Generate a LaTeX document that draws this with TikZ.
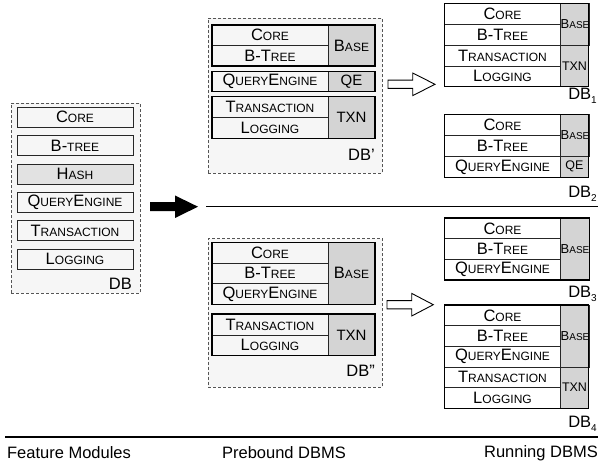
\documentclass[tikz,border=0pt]{standalone}
\usepackage{fontspec}
\setmainfont{Liberation Sans}
\definecolor{gfill}{HTML}{D4D4D4}
\definecolor{hfill}{HTML}{E2E2E2}
\definecolor{dfill}{HTML}{F6F6F6}
\definecolor{dline}{HTML}{555555}
\newcommand\Lg[1]{{\fontsize{16.5}{17}\selectfont #1}}
\newcommand\Sm[1]{{\fontsize{12}{13}\selectfont #1}}
\newcommand\rLg[1]{{\fontsize{13}{13}\selectfont #1}}
\newcommand\rSm[1]{{\fontsize{10}{10}\selectfont #1}}
\newcommand\DBsub[1]{DB\raisebox{-4pt}{\fontsize{10}{10}\selectfont #1}}
\begin{document}
\begin{tikzpicture}[x=1pt,y=-1pt,
  cell/.style={draw=black!85,line width=0.6pt,inner sep=0pt,outer sep=0pt,anchor=north west,align=center},
  lcell/.style={cell,minimum width=116,minimum height=20},
  mcell/.style={cell,minimum width=116},
  mgray/.style={cell,fill=gfill,minimum width=47},
  rcell/.style={cell,minimum width=116.4},
  rgray/.style={cell,fill=gfill,minimum width=27.6},
  grp/.style={draw=black,line width=1.5pt},
  dbox/.style={draw=dline,dash pattern=on 3pt off 2pt,line width=0.7pt,fill=dfill,anchor=north west,inner sep=0pt},
  dblab/.style={anchor=base east,inner sep=0pt,font=\fontsize{16.5}{17}\selectfont},
  bot/.style={inner sep=0pt,font=\fontsize{16.5}{17}\selectfont},
  sep/.style={draw=black,line width=1.1pt},
  hollow/.style={draw=black,line width=0.9pt,fill=white,line join=miter}]
\useasboundingbox (0,0) rectangle (611,468);

% ---------- Feature modules ----------
\node[dbox,minimum width=129,minimum height=190] (dbA) at (11,103) {};
\node[lcell] (fcore) at (17,107) {\Lg{C}\Sm{ORE}};
\node[lcell] (fbt) at (17,135.5) {\Lg{B-}\Sm{TREE}};
\node[lcell,fill=hfill] (fhash) at (17,164) {\Lg{H}\Sm{ASH}};
\node[lcell] (fqe) at (17,192) {\Lg{Q}\Sm{UERY}\Lg{E}\Sm{NGINE}};
\node[lcell] (ftx) at (17,220.5) {\Lg{T}\Sm{RANSACTION}};
\node[lcell] (flog) at (17,249) {\Lg{L}\Sm{OGGING}};
\node[dblab] (lA) at (132,289) {DB};

% big arrow
\fill (150,202.2) -- (175,202.2) -- (175,195.5) -- (198,206.7) -- (175,218) -- (175,211.2) -- (150,211.2) -- cycle;

% ---------- Prebound DB' ----------
\node[dbox,minimum width=174,minimum height=155] (dbP1) at (207.7,18) {};
\node[mcell,minimum height=20.5] (p1core) at (212,25) {\Lg{C}\Sm{ORE}};
\node[mcell,minimum height=20.5] (p1bt) at (212,45.5) {\Lg{B-T}\Sm{REE}};
\node[mgray,minimum height=41] (p1base) at (328,25) {\Lg{B}\Sm{ASE}};
\draw[grp] (p1core.north west) rectangle (p1base.south east);
\node[mcell,minimum height=20] (p1qe) at (212,71.7) {\Lg{Q}\Sm{UERY}\Lg{E}\Sm{NGINE}};
\node[mgray,minimum height=20] (p1qeg) at (328,71.7) {\fontsize{15}{15}\selectfont QE};
\draw[grp] (p1qe.north west) rectangle (p1qeg.south east);
\node[mcell,minimum height=20.8] (p1tx) at (212,96.7) {\Lg{T}\Sm{RANSACTION}};
\node[mcell,minimum height=20.8] (p1log) at (212,117.5) {\Lg{L}\Sm{OGGING}};
\node[mgray,minimum height=41.6] (p1txn) at (328,96.7) {\fontsize{15}{15}\selectfont TXN};
\draw[grp] (p1tx.north west) rectangle (p1txn.south east);
\node[dblab] (lP1) at (375,161) {DB\symbol{39}};

% ---------- Prebound DB'' ----------
\node[dbox,minimum width=174,minimum height=148.7] (dbP2) at (207.7,238.3) {};
\node[mcell,minimum height=20.67] (p2core) at (212,242.3) {\Lg{C}\Sm{ORE}};
\node[mcell,minimum height=20.67] (p2bt) at (212,262.97) {\Lg{B-T}\Sm{REE}};
\node[mcell,minimum height=20.67] (p2qe) at (212,283.64) {\Lg{Q}\Sm{UERY}\Lg{E}\Sm{NGINE}};
\node[mgray,minimum height=62] (p2base) at (328,242.3) {\Lg{B}\Sm{ASE}};
\draw[grp] (p2core.north west) rectangle (p2base.south east);
\node[mcell,minimum height=20.85] (p2tx) at (212,314) {\Lg{T}\Sm{RANSACTION}};
\node[mcell,minimum height=20.85] (p2log) at (212,334.85) {\Lg{L}\Sm{OGGING}};
\node[mgray,minimum height=41.7] (p2txn) at (328,314) {\fontsize{15}{15}\selectfont TXN};
\draw[grp] (p2tx.north west) rectangle (p2txn.south east);
\node[dblab] (lP2) at (375,376) {DB\symbol{34}};

% hollow arrows
\filldraw[hollow] (388,80.2) -- (412.7,80.2) -- (412.7,73) -- (435,84.3) -- (412.7,95.6) -- (412.7,88.4) -- (388,88.4) -- cycle;
\filldraw[hollow] (387,300.6) -- (411.7,300.6) -- (411.7,293.4) -- (433.3,304.7) -- (411.7,316) -- (411.7,308.8) -- (387,308.8) -- cycle;

% ---------- Running DB1 ----------
\node[rcell,minimum height=20.85] (r1core) at (444.3,3.3) {\Lg{C}\Sm{ORE}};
\node[rcell,minimum height=20.85] (r1bt) at (444.3,24.15) {\Lg{B-T}\Sm{REE}};
\node[rcell,minimum height=20.85] (r1tx) at (444.3,45) {\Lg{T}\Sm{RANSACTION}};
\node[rcell,minimum height=20.85] (r1log) at (444.3,65.85) {\Lg{L}\Sm{OGGING}};
\node[rgray,minimum height=41.7] (r1base) at (560.7,3.3) {\rLg{B}\rSm{ASE}};
\node[rgray,minimum height=41.7] (r1txn) at (560.7,45) {\fontsize{12.5}{12.5}\selectfont TXN};
\draw[grp] (r1core.north west) rectangle (r1txn.south east);
\node[dblab] (lR1) at (597,100) {\DBsub{1}};

% ---------- Running DB2 ----------
\node[rcell,minimum height=21] (r2core) at (444.3,114.3) {\Lg{C}\Sm{ORE}};
\node[rcell,minimum height=21] (r2bt) at (444.3,135.3) {\Lg{B-T}\Sm{REE}};
\node[rcell,minimum height=21] (r2qe) at (444.3,156.3) {\Lg{Q}\Sm{UERY}\Lg{E}\Sm{NGINE}};
\node[rgray,minimum height=42] (r2base) at (560.7,114.3) {\rLg{B}\rSm{ASE}};
\node[rgray,minimum height=21] (r2qeg) at (560.7,156.3) {\fontsize{12.5}{12.5}\selectfont QE};
\draw[grp] (r2core.north west) rectangle (r2qeg.south east);
\node[dblab] (lR2) at (597,197) {\DBsub{2}};

% separator
\coordinate (m1) at (206,206.7);
\coordinate (m2) at (598,206.7);
\draw[sep] (m1) -- (m2);

% ---------- Running DB3 ----------
\node[rcell,minimum height=20.7] (r3core) at (444.3,218) {\Lg{C}\Sm{ORE}};
\node[rcell,minimum height=20.7] (r3bt) at (444.3,238.7) {\Lg{B-T}\Sm{REE}};
\node[rcell,minimum height=20.7] (r3qe) at (444.3,259.4) {\Lg{Q}\Sm{UERY}\Lg{E}\Sm{NGINE}};
\node[rgray,minimum height=62.1] (r3base) at (560.7,218) {\rLg{B}\rSm{ASE}};
\draw[grp] (r3core.north west) rectangle (r3base.south east);
\node[dblab] (lR3) at (597,297) {\DBsub{3}};

% ---------- Running DB4 ----------
\node[rcell,minimum height=20.66] (r4core) at (444.3,305) {\Lg{C}\Sm{ORE}};
\node[rcell,minimum height=20.66] (r4bt) at (444.3,325.66) {\Lg{B-T}\Sm{REE}};
\node[rcell,minimum height=20.66] (r4qe) at (444.3,346.32) {\Lg{Q}\Sm{UERY}\Lg{E}\Sm{NGINE}};
\node[rcell,minimum height=20.66] (r4tx) at (444.3,366.98) {\Lg{T}\Sm{RANSACTION}};
\node[rcell,minimum height=20.66] (r4log) at (444.3,387.64) {\Lg{L}\Sm{OGGING}};
\node[rgray,minimum height=61.98] (r4base) at (560.7,305) {\rLg{B}\rSm{ASE}};
\node[rgray,minimum height=41.32] (r4txn) at (560.7,366.98) {\fontsize{12.5}{12.5}\selectfont TXN};
\draw[grp] (r4core.north west) rectangle (r4txn.south east);
\node[dblab] (lR4) at (597,427) {\DBsub{4}};

% bottom
\coordinate (b1) at (5,437);
\coordinate (b2) at (598,437);
\draw[sep] (b1) -- (b2);
\node[bot] (t1) at (69,453) {Feature Modules};
\node[bot] (t2) at (284,453) {Prebound DBMS};
\node[bot] (t3) at (541,453) {Running DBMS};
\end{tikzpicture}
\end{document}
